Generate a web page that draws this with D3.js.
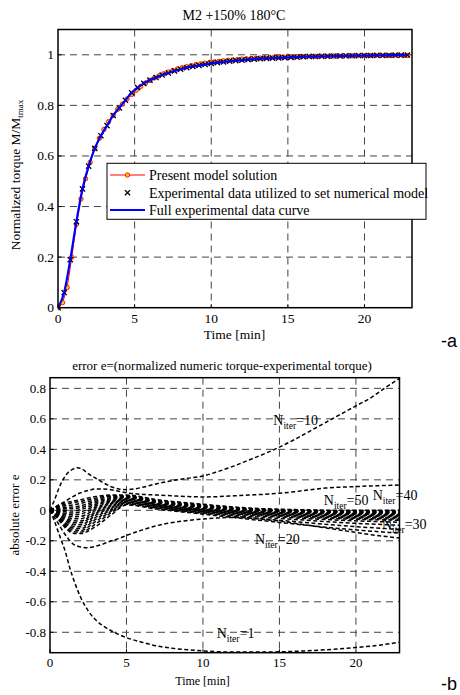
<!DOCTYPE html>
<html><head><meta charset="utf-8">
<script src="https://cdn.jsdelivr.net/npm/d3@7/dist/d3.min.js"></script>
<style>body{margin:0;background:#fff}svg{display:block}</style>
</head><body>
<svg id="c" width="460" height="695"></svg>
<script>
// ---------- Data: chart (a) ----------
const xTicksA = [0, 5, 10, 15, 20];
const yTicksA = [0, 0.2, 0.4, 0.6, 0.8, 1];
const yTickLabelsA = ["0", "0.2", "0.4", "0.6", "0.8", "1"];
const expTime = [0,0.4,0.8,1.2,1.6,2.0,2.4,2.8,3.2,3.6,4.0,4.4,4.8,5.2,5.6,6.0,6.4,6.8,7.2,7.6,8.0,8.4,8.8,9.2,9.6,10.0,10.4,10.8,11.2,11.6,12.0,12.4,12.8,13.2,13.6,14.0,14.4,14.8,15.2,15.6,16.0,16.4,16.8,17.2,17.6,18.0,18.4,18.8,19.2,19.6,20.0,20.4,20.8,21.2,21.6,22.0,22.4,22.8];
const expVal = [0,0.06,0.19,0.34,0.47,0.56,0.63,0.68,0.72,0.76,0.79,0.82,0.85,0.87,0.887,0.9,0.91,0.92,0.928,0.936,0.943,0.949,0.954,0.958,0.962,0.966,0.969,0.972,0.975,0.977,0.979,0.981,0.983,0.985,0.986,0.987,0.988,0.989,0.99,0.991,0.992,0.993,0.993,0.994,0.994,0.995,0.995,0.996,0.996,0.997,0.997,0.997,0.998,0.998,0.998,0.999,0.999,0.999];
const modelTime = [0,0.3,0.6,0.9,1.2,1.5,1.8,2.1,2.4,2.7,3.0,3.3,3.6,3.9,4.2,4.5,4.8,5.1,5.4,5.7,6.0,6.3,6.6,6.9,7.2,7.5,7.8,8.1,8.4,8.7,9.0,9.3,9.6,9.9,10.2,10.5,10.8,11.1,11.4,11.7,12.0,12.3,12.6,12.9,13.2,13.5,13.8,14.1,14.4,14.7,15.0,15.3,15.6,15.9,16.2,16.5,16.8,17.1,17.4,17.7,18.0,18.3,18.6,18.9,19.2,19.5,19.8,20.1,20.4,20.7,21.0,21.3,21.6,21.9,22.2,22.5,22.8];
const modelVal = [0,0.02,0.08,0.2,0.33,0.43,0.51,0.575,0.63,0.67,0.705,0.735,0.76,0.785,0.805,0.825,0.843,0.86,0.875,0.888,0.899,0.909,0.917,0.925,0.932,0.938,0.944,0.949,0.953,0.957,0.961,0.964,0.967,0.97,0.972,0.974,0.976,0.978,0.98,0.981,0.983,0.984,0.985,0.986,0.987,0.988,0.989,0.99,0.99,0.991,0.992,0.992,0.993,0.993,0.994,0.994,0.994,0.995,0.995,0.995,0.995,0.996,0.996,0.996,0.996,0.996,0.997,0.997,0.997,0.997,0.997,0.997,0.997,0.997,0.997,0.997,0.997];
const legendLabels = ["Present model solution", "Experimental data utilized to set numerical model", "Full experimental data curve"];

// ---------- Data: chart (b) ----------
const xTicksB = [0, 5, 10, 15, 20];
const yTicksB = [-0.8, -0.6, -0.4, -0.2, 0, 0.2, 0.4, 0.6, 0.8];
const n1Time = [0,0.25,0.5,0.75,1,1.3,1.6,2,2.5,3,3.5,4,5,6,7,8,9,10,12,14,16,18,20,21.5,22.85];
const n1Val = [0,-0.06,-0.13,-0.2,-0.27,-0.38,-0.47,-0.57,-0.66,-0.72,-0.76,-0.79,-0.835,-0.865,-0.89,-0.905,-0.915,-0.922,-0.93,-0.93,-0.925,-0.915,-0.9,-0.885,-0.865];
const n10Time = [0,0.3,0.6,0.9,1.2,1.5,1.8,2.1,2.5,3,3.5,4,4.5,5,5.5,6,7,8,9,10,11,12,13,14,15,16,17,18,19,20,21,22,22.85];
const n10Val = [0,0.07,0.15,0.21,0.25,0.27,0.28,0.27,0.24,0.21,0.18,0.155,0.14,0.135,0.14,0.15,0.175,0.195,0.21,0.225,0.255,0.29,0.33,0.37,0.415,0.465,0.52,0.575,0.63,0.685,0.74,0.81,0.865];
const n20Time = [0,0.5,1,1.5,2,2.5,3,3.5,4,4.5,5,6,7,8,9,10,11,12,13,14,15,16,17,18,19,20,21,22,22.85];
const n20Val = [0,-0.08,-0.16,-0.22,-0.24,-0.245,-0.235,-0.22,-0.2,-0.185,-0.165,-0.13,-0.1,-0.08,-0.067,-0.057,-0.05,-0.047,-0.05,-0.06,-0.07,-0.085,-0.1,-0.115,-0.13,-0.145,-0.16,-0.172,-0.182];
const upperTime = [0,0.5,1,1.5,2,2.5,3,3.5,4,4.5,5,6,7,8,9,10,11,12,13,14,15,16,17,18,19,20,21,22,22.85];
const upperVal = [0,0.03,0.06,0.09,0.115,0.13,0.14,0.14,0.135,0.125,0.115,0.105,0.1,0.095,0.09,0.088,0.09,0.095,0.1,0.105,0.112,0.122,0.135,0.146,0.152,0.156,0.16,0.163,0.166];
const bandTime = [0,0.5,1,1.5,2,3,4,5,7,10,13,16,19,22.85];
const band1 = [0,0.03,0.05,0.06,0.07,0.09,0.1,0.1,0.07,0.04,0.015,0.005,0.0,0.0];
const band2 = [0,0.025,0.04,0.05,0.058,0.08,0.095,0.095,0.065,0.035,0.012,0.002,-0.003,-0.004];
const band3 = [0,0.02,0.03,0.035,0.045,0.07,0.09,0.092,0.06,0.03,0.008,-0.002,-0.006,-0.008];
const band4 = [0,0.015,0.02,0.022,0.03,0.06,0.083,0.09,0.056,0.026,0.005,-0.005,-0.01,-0.012];
const band5 = [0,0.01,0.01,0.01,0.018,0.05,0.077,0.087,0.052,0.022,0.002,-0.008,-0.013,-0.016];
const band6 = [0,0.005,0.0,-0.005,0.005,0.04,0.07,0.084,0.048,0.018,-0.002,-0.012,-0.017,-0.02];
const band7 = [0,0.0,-0.01,-0.018,-0.01,0.03,0.063,0.08,0.045,0.014,-0.005,-0.015,-0.021,-0.025];
const band8 = [0,-0.005,-0.02,-0.03,-0.025,0.02,0.056,0.077,0.042,0.01,-0.008,-0.018,-0.025,-0.03];
const band9 = [0,-0.01,-0.03,-0.042,-0.04,0.01,0.05,0.074,0.039,0.007,-0.011,-0.022,-0.03,-0.035];
const band10 = [0,-0.015,-0.04,-0.055,-0.055,0.0,0.043,0.07,0.036,0.004,-0.014,-0.026,-0.035,-0.04];
const band11 = [0,-0.02,-0.05,-0.068,-0.07,-0.01,0.036,0.066,0.033,0.001,-0.017,-0.03,-0.04,-0.046];
const band12 = [0,-0.025,-0.06,-0.08,-0.082,-0.02,0.028,0.062,0.03,-0.002,-0.02,-0.034,-0.045,-0.052];
const band13 = [0,-0.03,-0.07,-0.092,-0.095,-0.032,0.02,0.058,0.027,-0.005,-0.024,-0.038,-0.05,-0.058];
const band14 = [0,-0.035,-0.08,-0.104,-0.108,-0.045,0.012,0.054,0.024,-0.008,-0.028,-0.043,-0.056,-0.065];
const band15 = [0,-0.04,-0.09,-0.116,-0.12,-0.058,0.004,0.05,0.02,-0.012,-0.033,-0.05,-0.065,-0.078];
const band16 = [0,-0.045,-0.1,-0.128,-0.132,-0.072,-0.005,0.045,0.016,-0.016,-0.04,-0.06,-0.08,-0.098];
const band17 = [0,-0.05,-0.108,-0.14,-0.143,-0.088,-0.015,0.04,0.012,-0.02,-0.048,-0.074,-0.1,-0.125];
const band18 = [0,-0.055,-0.115,-0.15,-0.152,-0.105,-0.03,0.035,0.008,-0.025,-0.058,-0.09,-0.12,-0.15];
const curveLabels = [
  {n: "10", t: 14.6, e: 0.56},
  {n: "50", t: 17.9, e: 0.035},
  {n: "40", t: 21.1, e: 0.065},
  {n: "30", t: 21.7, e: -0.12},
  {n: "20", t: 13.4, e: -0.22},
  {n: "1",  t: 10.9, e: -0.835}
];

const svg = d3.select("#c");
const serif = "'Liberation Serif','Times New Roman',serif";
const sans = "'Liberation Sans',Arial,sans-serif";

function frame(g, x, y, xt, yt, ytl, fs, tickY) {
  const [x0, x1] = x.range(), [y0, y1] = y.range();
  g.selectAll(".gx").data(xt.filter(d => d > 0)).join("line")
    .attr("x1", d => x(d)).attr("x2", d => x(d)).attr("y1", y1).attr("y2", y0)
    .attr("stroke", "#444").attr("stroke-width", 1).attr("stroke-dasharray", "7,5");
  g.selectAll(".gy").data(yt.filter(d => y(d) < y0 - 1 && y(d) > y1 + 1)).join("line")
    .attr("x1", x0).attr("x2", x1).attr("y1", d => y(d)).attr("y2", d => y(d))
    .attr("stroke", "#444").attr("stroke-width", 1).attr("stroke-dasharray", "7,5");
  g.selectAll(".tx").data(xt).join("text")
    .attr("x", d => x(d)).attr("y", tickY).attr("text-anchor", "middle")
    .attr("font-family", serif).attr("font-size", fs).text(d => d);
  g.selectAll(".ty").data(yt).join("text")
    .attr("x", x0 - 4).attr("y", d => y(d) + fs * 0.33).attr("text-anchor", "end")
    .attr("font-family", serif).attr("font-size", fs).text((d, i) => ytl ? ytl[i] : String(+d.toFixed(1)));
}
function border(g, x, y, xt, yt) {
  const [x0, x1] = x.range(), [y0, y1] = y.range();
  g.append("rect").attr("x", x0).attr("y", y1).attr("width", x1 - x0).attr("height", y0 - y1)
    .attr("fill", "none").attr("stroke", "#000").attr("stroke-width", 1.5);
  g.selectAll(".ktx").data(xt).join("line").attr("x1", d => x(d)).attr("x2", d => x(d))
    .attr("y1", y0).attr("y2", y0 - 3.5).attr("stroke", "#000");
  g.selectAll(".kty").data(yt).join("line").attr("x1", x0).attr("x2", x0 + 3.5)
    .attr("y1", d => y(d)).attr("y2", d => y(d)).attr("stroke", "#000");
}

// ================= Chart (a) =================
const xA = d3.scaleLinear().domain([0, 23.1]).range([58, 412]);
const yA = d3.scaleLinear().domain([0, 1.1]).range([307.7, 29.5]);
const gA = svg.append("g");
frame(gA, xA, yA, xTicksA, yTicksA, yTickLabelsA, 13.5, 323);

svg.append("clipPath").attr("id", "clipA").append("rect")
  .attr("x", 58).attr("y", 24).attr("width", 354).attr("height", 288);
const pA = gA.append("g").attr("clip-path", "url(#clipA)");

const model = modelTime.map((t, i) => [t, modelVal[i]]);
const exp = expTime.map((t, i) => [t, expVal[i]]);
const lineA = d3.line().x(d => xA(d[0])).y(d => yA(d[1]));

pA.append("path").datum(model).attr("d", lineA).attr("fill", "none").attr("stroke", "#ff0000").attr("stroke-width", 1);
pA.selectAll(".mc").data(model).join("circle")
  .attr("cx", d => xA(d[0])).attr("cy", d => yA(d[1])).attr("r", 2.2)
  .attr("fill", "#ffc800").attr("stroke", "#ff2000").attr("stroke-width", 1);
const cs = 2.6;
pA.selectAll(".ex").data(exp).join("path")
  .attr("d", d => { const cx = xA(d[0]), cy = yA(d[1]); return `M${cx-cs},${cy-cs}L${cx+cs},${cy+cs}M${cx-cs},${cy+cs}L${cx+cs},${cy-cs}`; })
  .attr("stroke", "#000").attr("stroke-width", 1.3).attr("fill", "none");
pA.append("path").datum(exp).attr("d", lineA.curve(d3.curveMonotoneX)).attr("fill", "none").attr("stroke", "#0000ff").attr("stroke-width", 2.2);

border(gA, xA, yA, xTicksA, yTicksA);

svg.append("text").attr("x", 234).attr("y", 20).attr("text-anchor", "middle")
  .attr("font-family", serif).attr("font-size", 14).text("M2 +150% 180°C");
svg.append("text").attr("x", 234.5).attr("y", 339).attr("text-anchor", "middle")
  .attr("font-family", serif).attr("font-size", 13.5).text("Time [min]");
const yl = svg.append("text").attr("transform", "translate(20,175) rotate(-90)").attr("text-anchor", "middle")
  .attr("font-family", serif).attr("font-size", 13.5);
yl.append("tspan").text("Normalized torque M/M");
yl.append("tspan").attr("font-size", 9).attr("dy", 3).text("tmax");

// legend
const lg = svg.append("g");
lg.append("rect").attr("x", 107).attr("y", 163.3).attr("width", 319).attr("height", 56)
  .attr("fill", "#fff").attr("stroke", "#000").attr("stroke-width", 1);
const rowY = [175, 192.7, 210];
lg.append("line").attr("x1", 110).attr("x2", 145).attr("y1", rowY[0]).attr("y2", rowY[0]).attr("stroke", "#ff0000").attr("stroke-width", 1);
lg.append("circle").attr("cx", 127.5).attr("cy", rowY[0]).attr("r", 2.2).attr("fill", "#ffc800").attr("stroke", "#ff2000");
lg.append("path").attr("d", `M${127.5-cs},${rowY[1]-cs}L${127.5+cs},${rowY[1]+cs}M${127.5-cs},${rowY[1]+cs}L${127.5+cs},${rowY[1]-cs}`)
  .attr("stroke", "#000").attr("stroke-width", 1.3);
lg.append("line").attr("x1", 110).attr("x2", 145).attr("y1", rowY[2]).attr("y2", rowY[2]).attr("stroke", "#0000ff").attr("stroke-width", 2);
lg.selectAll(".lt").data(legendLabels).join("text")
  .attr("x", 149).attr("y", (d, i) => rowY[i] + 4.8)
  .attr("font-family", serif).attr("font-size", 14).text(d => d);

svg.append("text").attr("x", 441).attr("y", 347).attr("font-family", sans)
  .attr("font-size", 18).text("-a");

// ================= Chart (b) =================
const xB = d3.scaleLinear().domain([0, 22.85]).range([50, 399.5]);
const yB = d3.scaleLinear().domain([-0.934, 0.87]).range([652.7, 377.7]);
const gB = svg.append("g");
frame(gB, xB, yB, xTicksB, yTicksB, null, 13, 667);

const pB = gB.append("g");
const lineB = d3.line().x(d => xB(d[0])).y(d => yB(d[1])).curve(d3.curveMonotoneX);

curveLabels.forEach(l => {
  const t = pB.append("text").attr("x", xB(l.t)).attr("y", yB(l.e)).attr("font-family", serif).attr("font-size", 14);
  t.append("tspan").text("N");
  t.append("tspan").attr("font-size", 9.5).attr("dy", 4).text("iter");
  t.append("tspan").attr("dy", -4).text("=" + l.n);
});

const bands = [band1, band2, band3, band4, band5, band6, band7, band8, band9, band10, band11, band12, band13, band14, band15, band16, band17, band18];
const curves = [
  n1Time.map((t, i) => [t, n1Val[i]]),
  n10Time.map((t, i) => [t, n10Val[i]]),
  n20Time.map((t, i) => [t, n20Val[i]]),
  upperTime.map((t, i) => [t, upperVal[i]])
].concat(bands.map(b => bandTime.map((t, i) => [t, b[i]])));

pB.selectAll(".cv").data(curves).join("path")
  .attr("d", lineB).attr("fill", "none").attr("stroke", "#000")
  .attr("stroke-width", 1.5).attr("stroke-dasharray", "4,2.5");

border(gB, xB, yB, xTicksB, yTicksB);

svg.append("text").attr("x", 222).attr("y", 369.5).attr("text-anchor", "middle")
  .attr("font-family", serif).attr("font-size", 13).text("error e=(normalized numeric torque-experimental torque)");
svg.append("text").attr("x", 202.5).attr("y", 685).attr("text-anchor", "middle")
  .attr("font-family", serif).attr("font-size", 12).text("Time [min]");
svg.append("text").attr("transform", "translate(19,515) rotate(-90)").attr("text-anchor", "middle")
  .attr("font-family", serif).attr("font-size", 13).text("absolute error e");
svg.append("text").attr("x", 441).attr("y", 690).attr("font-family", sans)
  .attr("font-size", 18).text("-b");
</script>
</body></html>
